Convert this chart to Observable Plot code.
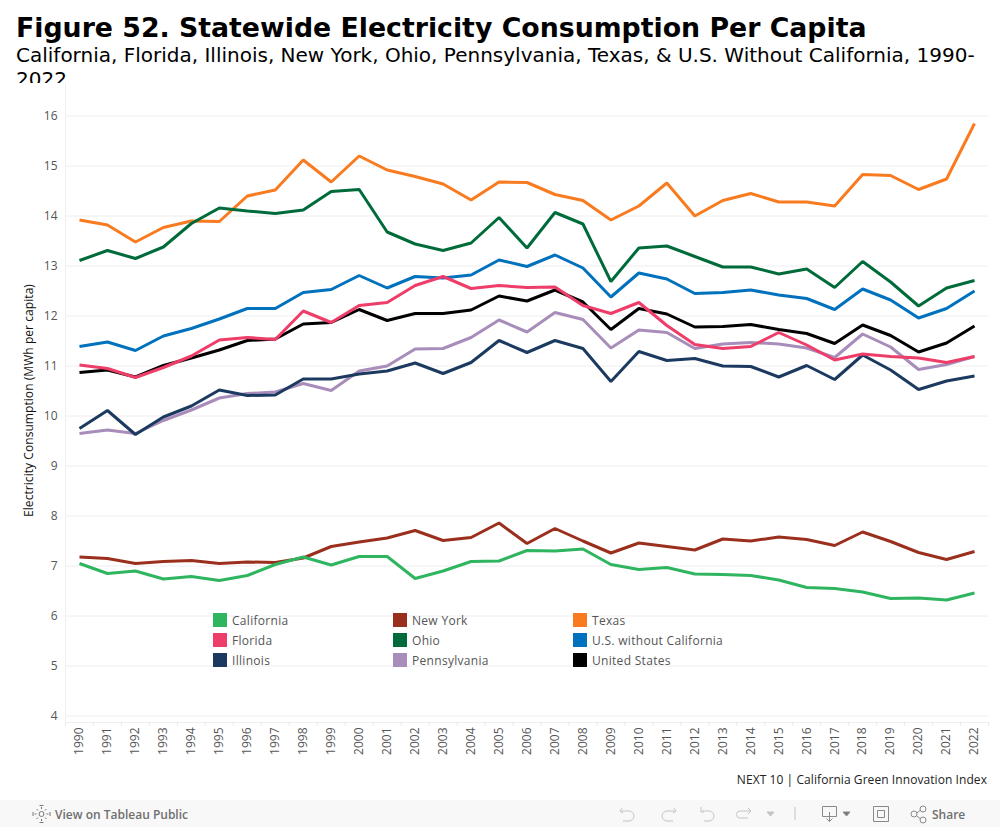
<!DOCTYPE html>
<html><head><meta charset="utf-8">
<script src="https://cdn.jsdelivr.net/npm/d3@7"></script>
<script src="https://cdn.jsdelivr.net/npm/@observablehq/plot@0.6"></script>
<style>
html,body{margin:0;padding:0;background:#fff}
#page{position:relative;width:1000px;height:827px;overflow:hidden;background:#fff}
#head{position:absolute;left:16px;top:10px;width:972px;height:73px;overflow:hidden;font-family:"DejaVu Sans";color:#000}
#t{font-weight:700;font-size:26.75px;line-height:35px;white-space:nowrap}
#s{font-size:20px;line-height:24px;margin-top:-2px}
#chart{position:absolute;left:0;top:83px}
#legend{position:absolute;left:213px;top:613px;display:grid;grid-template-columns:180px 180px 180px;grid-auto-rows:20px;grid-auto-flow:column;grid-template-rows:20px 20px 20px;font:12px "Open Sans";letter-spacing:.3px;color:#555}
.li{display:flex;align-items:flex-start;height:20px}
.sw{width:14px;height:14px;margin-right:5px;flex:none}
.li span{line-height:15px}
#foot{position:absolute;right:13px;top:771px;font:12px "Open Sans";letter-spacing:.07px;color:#222}
#bar{position:absolute;left:0;top:800px;width:1000px;height:27px;background:#f8f8f8;font:600 12px "Open Sans";color:#6f6f6f}
#bar .v{position:absolute;left:55px;top:6px}
#bar .sh{position:absolute;left:932px;top:6px}
#bar svg{position:absolute;left:0;top:0}
</style></head><body>
<div id="page">
<div id="head"><div id="t">Figure 52. Statewide Electricity Consumption Per Capita</div>
<div id="s">California, Florida, Illinois, New York, Ohio, Pennsylvania, Texas, &amp; U.S. Without California, 1990-2022</div></div>
<div id="chart"></div>
<div id="legend"></div>
<div id="foot">NEXT 10 | California Green Innovation Index</div>
<div id="bar">
<svg width="1000" height="27" fill="none" stroke="#8a8a8a" stroke-width="1">
<g stroke="#777"><circle cx="41.500" cy="14" r="2.500"/><path d="M41.500 9v-2M41.500 19v2M36.500 14h-2M46.500 14h2M38 10.500l-1.500-1.500M45 10.500l1.500-1.500M38 17.500l-1.500 1.500M45 17.500l1.500 1.500"/><path d="M39.500 5.500h4M39.500 22.500h4M33 12v4M50 12v4"/></g>
<g stroke="#c4c4c4"><path d="M622 8l-2 3 3 2M620 11h9a5 5 0 0 1 0 10h-6"/><path d="M674 8l2 3-3 2M676 11h-9a5 5 0 0 0 0 10h6"/><path d="M701 7v5h3M702 11h7a5 5 0 0 1 0 10h-5"/><path d="M748 8l3 3-3 3M750 11h-10a3.500 3.500 0 0 0 0 7h8"/><path d="M767 12h7l-3.500 4z" fill="#c4c4c4"/><path d="M795 7v13"/></g>
<path d="M822.500 6.500h14v10h-14zM829.500 12v9.500M826.500 18.500l3 3 3-3"/><path d="M843 12h7l-3.500 4z" fill="#777"/>
<path d="M873.500 6.500h15v15h-15zM877.500 10.500h7v7h-7z"/>
<circle cx="914" cy="14" r="3"/><circle cx="923" cy="9" r="3"/><circle cx="923" cy="20" r="3"/><path d="M917 13l3.500-3M917 16l3.500 3"/>
</svg>
<div class="v">View on Tableau Public</div><div class="sh">Share</div></div>
</div>
<script>
const years = d3.range(1990, 2023);
const yTicks = [4,5,6,7,8,9,10,11,12,13,14,15,16];
const seriesNames = ["California","Florida","Illinois","New York","Ohio","Pennsylvania","Texas","U.S. without California","United States"];
const seriesColors = ["#2fb55f","#ee3d68","#1c3a60","#9b2f1d","#006b3a","#a88dba","#f97b20","#0071bc","#000000"];
const drawOrder = ["Texas","Ohio","U.S. without California","Pennsylvania","Illinois","United States","Florida","New York","California"];

const california = [7.05,6.85,6.90,6.74,6.79,6.71,6.81,7.03,7.18,7.02,7.19,7.19,6.75,6.90,7.09,7.10,7.31,7.30,7.34,7.03,6.93,6.97,6.84,6.83,6.81,6.72,6.57,6.55,6.48,6.35,6.36,6.32,6.46];
const florida = [11.02,10.95,10.77,10.97,11.20,11.52,11.57,11.53,12.10,11.87,12.21,12.27,12.61,12.79,12.55,12.61,12.57,12.58,12.21,12.05,12.27,11.81,11.43,11.35,11.39,11.67,11.42,11.12,11.24,11.19,11.16,11.07,11.19];
const illinois = [9.75,10.11,9.63,9.98,10.20,10.52,10.41,10.42,10.74,10.74,10.84,10.90,11.06,10.85,11.07,11.51,11.27,11.51,11.35,10.69,11.29,11.11,11.15,11.00,10.99,10.78,11.01,10.73,11.22,10.92,10.53,10.70,10.80];
const newYork = [7.18,7.15,7.05,7.09,7.11,7.05,7.08,7.07,7.16,7.39,7.48,7.56,7.71,7.51,7.57,7.86,7.45,7.75,7.50,7.26,7.46,7.39,7.32,7.54,7.50,7.58,7.53,7.41,7.68,7.49,7.27,7.13,7.29];
const ohio = [13.11,13.31,13.15,13.38,13.85,14.16,14.10,14.05,14.12,14.49,14.53,13.68,13.44,13.31,13.46,13.97,13.36,14.07,13.84,12.69,13.36,13.40,13.19,12.98,12.98,12.84,12.94,12.57,13.09,12.68,12.20,12.56,12.71];
const pennsylvania = [9.65,9.72,9.65,9.91,10.12,10.36,10.45,10.48,10.65,10.51,10.90,11.00,11.34,11.35,11.57,11.92,11.68,12.07,11.93,11.36,11.72,11.67,11.35,11.44,11.47,11.44,11.36,11.17,11.64,11.38,10.93,11.03,11.19];
const texas = [13.92,13.82,13.48,13.77,13.90,13.89,14.40,14.52,15.12,14.68,15.20,14.92,14.79,14.64,14.32,14.68,14.67,14.43,14.31,13.92,14.20,14.66,14.00,14.31,14.45,14.28,14.28,14.20,14.83,14.81,14.53,14.74,15.85];
const usNoCa = [11.39,11.48,11.31,11.60,11.75,11.94,12.15,12.15,12.47,12.53,12.81,12.56,12.79,12.76,12.82,13.12,12.99,13.22,12.96,12.38,12.86,12.74,12.45,12.47,12.52,12.42,12.35,12.13,12.54,12.32,11.96,12.15,12.50];
const unitedStates = [10.87,10.92,10.78,11.01,11.16,11.32,11.51,11.54,11.84,11.87,12.13,11.91,12.05,12.05,12.12,12.40,12.30,12.52,12.28,11.73,12.15,12.04,11.78,11.79,11.83,11.73,11.65,11.45,11.82,11.61,11.28,11.46,11.80];

const seriesValues = [california,florida,illinois,newYork,ohio,pennsylvania,texas,usNoCa,unitedStates];
const rows = drawOrder.flatMap(name => {
  const vals = seriesValues[seriesNames.indexOf(name)];
  return years.map((year,i) => ({year, name, value: vals[i]}));
});
const xMin = years[0]-0.5, xMax = years[years.length-1]+0.5;
const yMin = 3.87, yMax = 16.65;
const bandEdges = d3.range(xMin, xMax+1);

const chart = Plot.plot({
  width: 1000, height: 680,
  marginLeft: 65, marginRight: 12, marginTop: 0, marginBottom: 41,
  style: {fontFamily: '"Open Sans"', fontSize: "12px", background: "transparent"},
  x: {type: "linear", domain: [xMin, xMax]},
  y: {type: "linear", domain: [yMin, yMax]},
  color: {type: "ordinal", domain: seriesNames, range: seriesColors},
  marks: [
    Plot.gridY(yTicks, {stroke: "#eeeeee", strokeOpacity: 1}),
    Plot.ruleX([xMin], {stroke: "#eeeeee"}),
    Plot.ruleY([yMin], {stroke: "#eeeeee"}),
    Plot.axisY({ticks: yTicks, tickSize: 0, tickPadding: 8, fill: "#555", fontSize: 12, label: null, tickFormat: d => String(d)}),
    Plot.axisX({ticks: bandEdges, tickSize: 4, tickFormat: () => "", label: null, stroke: "#eaeaea"}),
    Plot.axisX({ticks: years, tickSize: 0, tickPadding: 5, tickRotate: -90, fill: "#555", fontSize: 12, label: null, tickFormat: d => String(d)}),
    Plot.line(rows, {x: "year", y: "value", z: "name", stroke: "name", strokeWidth: 3, strokeLinejoin: "miter", strokeLinecap: "butt"})
  ]
});
document.getElementById("chart").appendChild(chart);

// y axis title, as real text in the SVG
const svg = d3.select(chart);
svg.append("text")
  .attr("transform", "translate(33,317.5) rotate(-90)")
  .attr("text-anchor", "middle")
  .attr("fill", "#111")
  .style("font", '12px "Open Sans"')
  .style("letter-spacing", ".06px")
  .text("Electricity Consumption (MWh per capita)");

const lg = document.getElementById("legend");
seriesNames.forEach((n,i) => {
  const d = document.createElement("div"); d.className = "li";
  const s = document.createElement("div"); s.className = "sw"; s.style.background = seriesColors[i];
  const t = document.createElement("span"); t.textContent = n;
  d.append(s,t); lg.appendChild(d);
});
</script>
</body></html>
